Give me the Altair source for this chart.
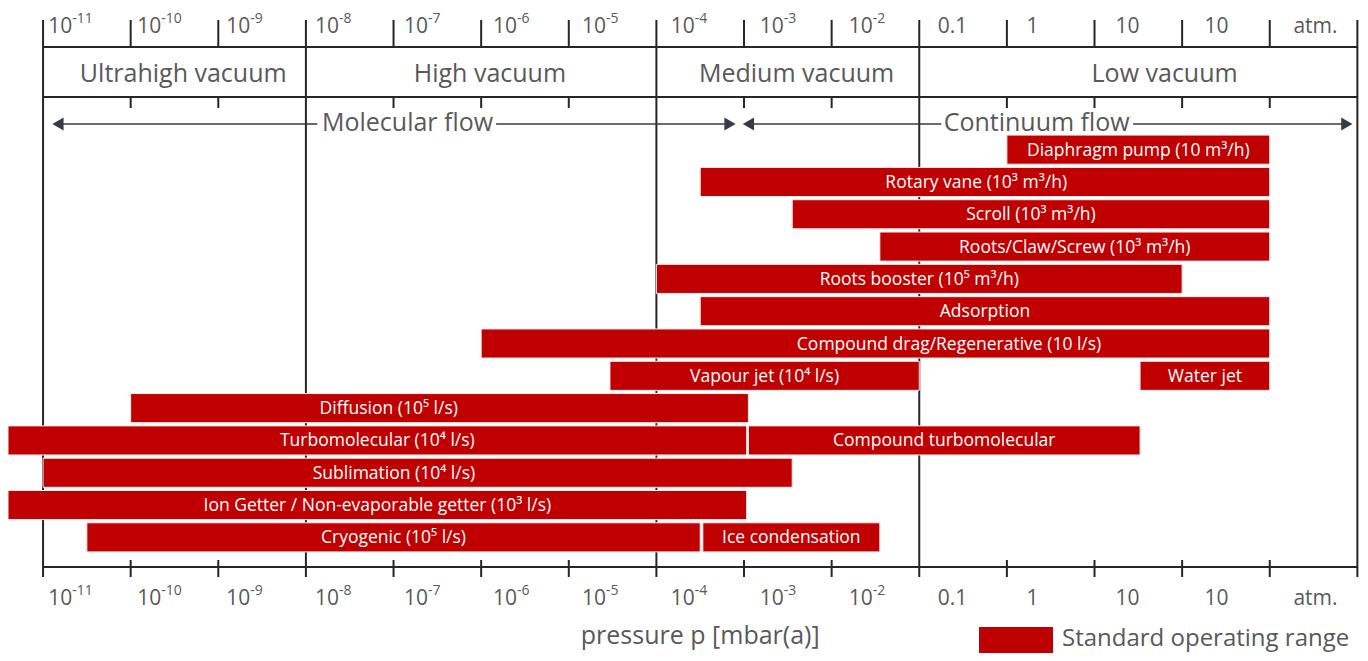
import altair as alt
import pandas as pd

# ---------------- data ----------------
# decade tick positions, log10(p / mbar)
decades = list(range(-11, 5))
tick_base = ["10", "10", "10", "10", "10", "10", "10", "10", "10", "10",
             "0.1", "1", "10", "10", "atm."]
tick_exp = ["-11", "-10", "-9", "-8", "-7", "-6", "-5", "-4", "-3", "-2",
            "", "", "", "", ""]

region_names = ["Ultrahigh vacuum", "High vacuum", "Medium vacuum", "Low vacuum"]
region_bounds = [-11, -8, -4, -1, 4]

flow_names = ["Molecular flow", "Continuum flow"]

pump_names = [
    "Diaphragm pump (10 m³/h)",
    "Rotary vane (10³ m³/h)",
    "Scroll (10³ m³/h)",
    "Roots/Claw/Screw (10³ m³/h)",
    "Roots booster (10⁵ m³/h)",
    "Adsorption",
    "Compound drag/Regenerative (10 l/s)",
    "Vapour jet (10⁴ l/s)",
    "Water jet",
    "Diffusion (10⁵ l/s)",
    "Turbomolecular (10⁴ l/s)",
    "Compound turbomolecular",
    "Sublimation (10⁴ l/s)",
    "Ion Getter / Non-evaporable getter (10³ l/s)",
    "Cryogenic (10⁵ l/s)",
    "Ice condensation",
]
pump_row = [0, 1, 2, 3, 4, 5, 6, 7, 7, 8, 9, 9, 10, 11, 12, 12]
pump_start = [0, -3.5, -2.45, -1.45, -4, -3.5, -6, -4.53, 1.52,
              -10, -11.4, -2.95, -11, -11.4, -10.5, -3.47]
pump_end = [3, 3, 3, 3, 2, 3, 3, -1, 3,
            -2.95, -2.97, 1.52, -2.45, -2.97, -3.5, -1.45]

legend_label = "Standard operating range"
x_title = "pressure p [mbar(a)]"

# ---------------- styling / layout ----------------
FONT = "Open Sans"
RED = "#C00000"
GRAY = "#595959"
LINE = "#262626"
W, H = 1352, 645
XMIN, XMAX = -11.4, 4.03

xscale = alt.Scale(domain=[XMIN, XMAX], nice=False, zero=False)
yscale = alt.Scale(domain=[-0.5, 12.5], range=[125.5, 545.5], nice=False, zero=False)


def X(f):
    return alt.X(f, type="quantitative", scale=xscale, axis=None)


label_shift = {"Diffusion (10⁵ l/s)": -0.58,
               "Compound drag/Regenerative (10 l/s)": 0.84,
               "Sublimation (10⁴ l/s)": -0.27,
               "Rotary vane (10³ m³/h)": -0.1}

pumps = pd.DataFrame({"name": pump_names, "row": pump_row,
                      "start": pump_start, "end": pump_end})
pumps["y0"] = pumps["row"] - 0.45
pumps["y1"] = pumps["row"] + 0.45
pumps["mid"] = (pumps["start"] + pumps["end"]) / 2 + pumps["name"].map(label_shift).fillna(0)

ticks = pd.DataFrame({"v": decades})
major = ticks[ticks["v"].isin(region_bounds)]
minor = ticks[~ticks["v"].isin(region_bounds)]

lab = pd.DataFrame({"v": decades[:-1], "base": tick_base, "exp": tick_exp})
lab["x"] = lab["v"] + 0.06 + (lab["v"] + 11) * 0.015

regions = pd.DataFrame({"name": region_names,
                        "x": [(a + b) / 2 + 0.1 for a, b in zip(region_bounds[:-1], region_bounds[1:])]})
regions.loc[regions["name"] == "Low vacuum", "x"] += 0.2

span = pd.DataFrame({"a": [decades[0]], "b": [decades[-1]]})

# arrow annotation geometry (decade units)
flow_text = pd.DataFrame({"name": flow_names, "x": [-6.84, 0.34]})
flow_seg = pd.DataFrame({"a": [-10.83, -5.83, -2.95, 1.44],
                         "b": [-7.87, -3.16, -0.75, 3.88]})
heads_l = pd.DataFrame({"x": [-10.83, -2.95]})
heads_r = pd.DataFrame({"x": [-3.16, 3.88]})

layers = []

# vertical full lines at region boundaries
layers.append(alt.Chart(major).mark_rule(color=LINE, strokeWidth=2).encode(
    x=X("v"), y=alt.value(12), y2=alt.value(569)))
# minor ticks: top, under second line, bottom
for y0, y1 in [(12, 39), (89, 100), (552, 569)]:
    layers.append(alt.Chart(minor).mark_rule(color=LINE, strokeWidth=2).encode(
        x=X("v"), y=alt.value(y0), y2=alt.value(y1)))
# horizontal lines
for yy in [39, 89, 559]:
    layers.append(alt.Chart(span).mark_rule(color=LINE, strokeWidth=2).encode(
        x=X("a"), x2="b", y=alt.value(yy)))

# tick labels top and bottom
for base_y in [25, 597]:
    layers.append(alt.Chart(lab).mark_text(
        font=FONT, fontSize=21, color=GRAY, align="left", baseline="alphabetic").encode(
        x=X("x"), y=alt.value(base_y), text="base"))
    layers.append(alt.Chart(lab).mark_text(
        font=FONT, fontSize=14, color=GRAY, align="left", baseline="alphabetic", dx=24).encode(
        x=X("x"), y=alt.value(base_y - 10), text="exp"))

# region labels
layers.append(alt.Chart(regions).mark_text(
    font=FONT, fontSize=25, color=GRAY, baseline="middle").encode(
    x=X("x"), y=alt.value(66), text="name"))

# flow arrows
layers.append(alt.Chart(flow_seg).mark_rule(color="#3a3a3a", strokeWidth=1.3).encode(
    x=X("a"), x2="b", y=alt.value(116)))
layers.append(alt.Chart(heads_l).mark_point(shape="triangle-left", filled=True, size=170,
                                            color="#333d45", opacity=1).encode(
    x=X("x"), y=alt.value(116)))
layers.append(alt.Chart(heads_r).mark_point(shape="triangle-right", filled=True, size=170,
                                            color="#333d45", opacity=1).encode(
    x=X("x"), y=alt.value(116)))
layers.append(alt.Chart(flow_text).mark_text(
    font=FONT, fontSize=25, color=GRAY, baseline="middle").encode(
    x=X("x"), y=alt.value(115), text="name"))

# bars
layers.append(alt.Chart(pumps).mark_rect(color=RED, stroke="#fbeaea", strokeWidth=1).encode(
    x=X("start"), x2="end",
    y=alt.Y("y0:Q", scale=yscale, axis=None), y2="y1"))
layers.append(alt.Chart(pumps).mark_text(
    font=FONT, fontSize=17.5, color="white", baseline="middle", dy=1).encode(
    x=X("mid"), y=alt.Y("row:Q", scale=yscale, axis=None), text="name"))

# axis title
layers.append(alt.Chart(pd.DataFrame({"t": [x_title], "x": [-3.5]})).mark_text(
    font=FONT, fontSize=25, color=GRAY, baseline="alphabetic").encode(
    x=X("x"), y=alt.value(636), text="t"))

# legend
layers.append(alt.Chart(pd.DataFrame({"t": [legend_label]})).mark_rect(color=RED).encode(
    x=alt.value(971), x2=alt.value(1045), y=alt.value(619), y2=alt.value(660)))
layers.append(alt.Chart(pd.DataFrame({"t": [legend_label]})).mark_text(
    font=FONT, fontSize=24, color=GRAY, align="left", baseline="alphabetic").encode(
    x=alt.value(1054), y=alt.value(638), text="t"))

chart = alt.layer(*layers).properties(
    width=W, height=H, padding=0,
    autosize=alt.AutoSizeParams(type="none"),
).configure_view(stroke=None)

chart.save("out.html", embed_options={"renderer": "svg", "actions": False})
